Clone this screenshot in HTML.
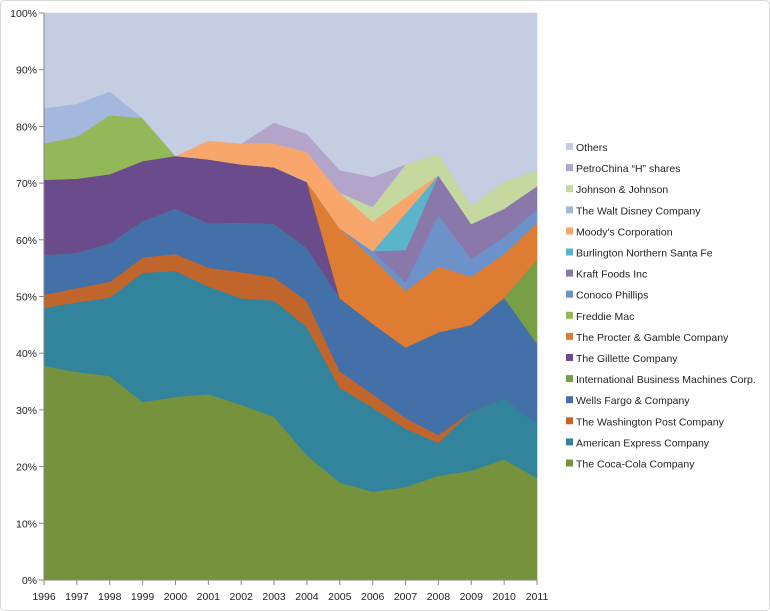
<!DOCTYPE html>
<html><head><meta charset="utf-8"><style>
html,body{margin:0;padding:0;background:#fff;}
svg{display:block;font-family:"Liberation Sans",sans-serif;}
</style></head><body>
<svg id="chart" width="770" height="611" viewBox="0 0 770 611">
<rect x="0.5" y="0.5" width="769" height="610" fill="#fff" stroke="#d9d9d9" rx="4"/>
<g id="areas"></g>
<g id="axes"></g>
<g id="legend"></g>
</svg>
<script>
const years = ["1996","1997","1998","1999","2000","2001","2002","2003","2004","2005","2006","2007","2008","2009","2010","2011"];
const seriesNames = ["The Coca-Cola Company","American Express Company","The Washington Post Company","Wells Fargo & Company","International Business Machines Corp.","The Gillette Company","The Procter & Gamble Company","Freddie Mac","Conoco Phillips","Kraft Foods Inc","Burlington Northern Santa Fe","Moody's Corporation","The Walt Disney Company","Johnson & Johnson","PetroChina \u201cH\u201d shares","Others"];
const cocaCola   = [37.8,36.7,36,31.4,32.3,32.8,30.9,28.8,22,17.2,15.6,16.4,18.4,19.3,21.3,18];
const amex       = [10.2,12.3,13.8,22.8,22.2,19,18.8,20.5,22.6,16.7,14.8,10.3,5.8,10.4,10.7,9.5];
const washPost   = [2.3,2.5,2.8,2.7,3,3.3,4.6,4.1,4.6,2.9,2.4,1.9,1.4,0,0,0];
const wellsFargo = [7,6.2,6.8,6.4,8,7.8,8.7,9.4,9.3,12.9,12.4,12.4,18.1,15.3,17.8,14.2];
const ibm        = [0,0,0,0,0,0,0,0,0,0,0,0,0,0,0,14.8];
const gillette   = [13.3,13.1,12.2,10.6,9.3,11.3,10.3,10,11.7,0,0,0,0,0,0,0];
const pg         = [0,0,0,0,0,0,0,0,0,12.3,11.6,10,11.6,8.5,7.7,6.5];
const freddie    = [6.4,7.4,10.4,7.6,0,0,0,0,0,0,0,0,0,0,0,0];
const conoco     = [0,0,0,0,0,0,0,0,0,0,1.2,1.5,9.1,3.1,3,2.3];
const kraft      = [0,0,0,0,0,0,0,0,0,0,0,5.7,7,6.2,5,4.2];
const burlington = [0,0,0,0,0,0,0,0,0,0,0,6.5,0,0,0,0];
const moodys     = [0,0,0,0,0,3.3,3.7,4.2,5.3,6.3,5.2,2.8,0,0,0,0];
const disney     = [6.2,5.8,4.2,0,0,0,0,0,0,0,0,0,0,0,0,0];
const jnj        = [0,0,0,0,0,0,0,0,0,0,2.6,5.8,3.8,3.2,4.8,2.8];
const petro      = [0,0,0,0,0,0,0,3.7,3.2,4,5.3,0,0,0,0,0];
const yTicks = ["0%","10%","20%","30%","40%","50%","60%","70%","80%","90%","100%"];
const colors = ["#76923c","#31849b","#c0652c","#4370a8","#77a046","#6a4c8c","#dd7c32","#93b85a","#6d92c9","#8b78aa","#5bb4c9","#f8a66c","#a3b8dc","#c4d8a0","#b3a5c9","#c4cde2"];
const keys = ["coca-cola","american-express","washington-post","wells-fargo","ibm","gillette","procter-gamble","freddie-mac","conoco-phillips","kraft-foods","burlington-northern","moodys","walt-disney","johnson-johnson","petrochina","others"];
const base = [cocaCola,amex,washPost,wellsFargo,ibm,gillette,pg,freddie,conoco,kraft,burlington,moodys,disney,jnj,petro];
const others = years.map((_,i)=>Math.max(0,100-base.reduce((s,a)=>s+a[i],0)));
const data = base.concat([others]);

const X0=44,X1=537,Y0=580,Y1=13;
const x = i => X0+(X1-X0)*i/(years.length-1);
const y = v => Y0-(Y0-Y1)*v/100;
const NS="http://www.w3.org/2000/svg";
const mk=(t,a,p)=>{const e=document.createElementNS(NS,t);for(const k in a)e.setAttribute(k,a[k]);p.appendChild(e);return e;};

const areas=document.getElementById('areas');
let cum=years.map(()=>0);
data.forEach((s,si)=>{
  const lo=cum.slice(); const hi=cum.map((c,i)=>c+s[i]); cum=hi;
  let d="M"+years.map((_,i)=>x(i)+","+y(hi[i])).join("L");
  for(let i=years.length-1;i>=0;i--) d+="L"+x(i)+","+y(lo[i]);
  const p=mk('path',{d:d+"Z",fill:colors[si],stroke:colors[si],"stroke-width":"0.6"},areas);
  
  
});

const axes=document.getElementById('axes');
const ya=mk('line',{x1:X0,y1:Y1,x2:X0,y2:Y0,stroke:"#868686"},axes);


const xa=mk('line',{x1:X0,y1:Y0,x2:X1,y2:Y0,stroke:"#868686"},axes);


yTicks.forEach((t,i)=>{
  const v=i*10;
  mk('line',{x1:X0-5,y1:y(v),x2:X0,y2:y(v),stroke:"#868686"},axes);
  const tx=mk('text',{x:X0-7,y:y(v)+4,"text-anchor":"end","font-size":"10.5",fill:"#222"},axes);
  tx.textContent=t;
  
  
});
years.forEach((yr,i)=>{
  mk('line',{x1:x(i),y1:Y0,x2:x(i),y2:Y0+5,stroke:"#868686"},axes);
  const tx=mk('text',{x:x(i),y:600,"text-anchor":"middle","font-size":"10.5",fill:"#222"},axes);
  tx.textContent=yr;
  
  
});

const lg=document.getElementById('legend');
for(let k=0;k<data.length;k++){
  const si=data.length-1-k; const ly=147+k*21.1;
  const g=mk('g',{},lg);
  
  
  mk('rect',{x:566,y:ly-4,width:7,height:7,fill:colors[si]},g);
  const t=mk('text',{x:576,y:ly+4,"font-size":"10.5",fill:"#222"},g);
  t.textContent=seriesNames[si];
}
</script>
</body></html>
